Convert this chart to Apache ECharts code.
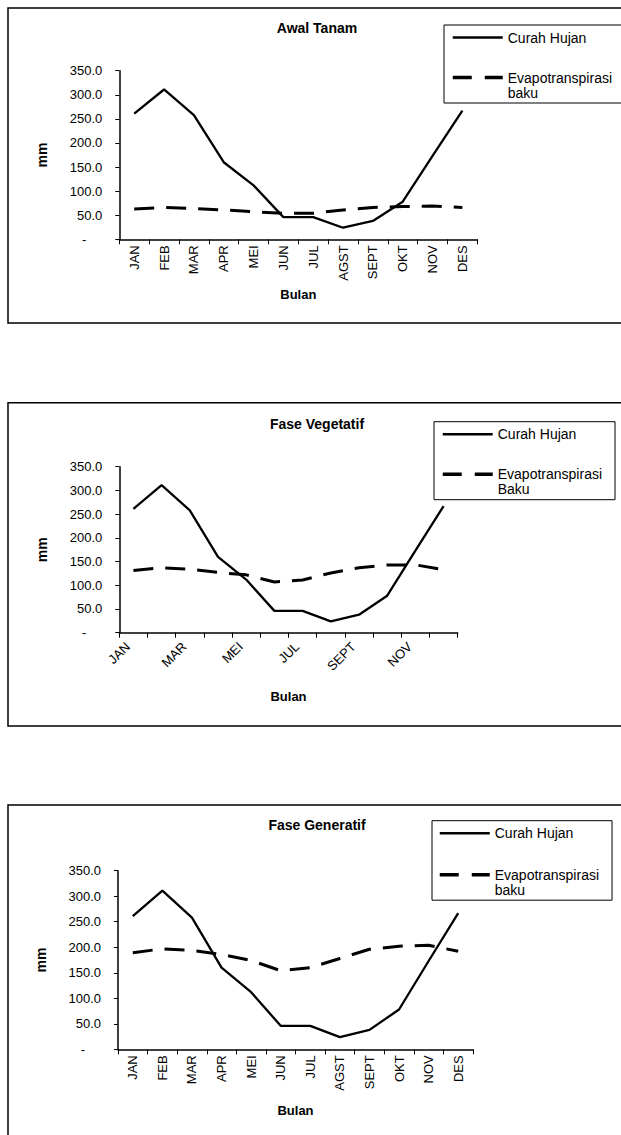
<!DOCTYPE html>
<html>
<head>
<meta charset="utf-8">
<script src="https://cdn.jsdelivr.net/npm/echarts@6/dist/echarts.min.js"></script>
<style>
html,body{margin:0;padding:0;background:#fff;}
#chart{width:621px;height:1135px;}
</style>
</head>
<body>
<div id="chart"></div>
<script>
// ---- data ----
const months = ['JAN','FEB','MAR','APR','MEI','JUN','JUL','AGST','SEPT','OKT','NOV','DES'];
const curahHujan = [261, 311, 258, 160, 112, 46, 46, 24, 38, 78, 173, 267];
const evapoAwalTanam = [63, 66, 64, 61, 57, 54, 54, 61, 66, 68, 69, 66];
const evapoVegetatif = [131, 137, 134, 127, 122, 107, 111, 126, 137, 143, 143, 133];
const evapoGeneratif = [189, 197, 194, 186, 174, 154, 160, 178, 196, 202, 204, 192];
const chartTitles = ['Awal Tanam', 'Fase Vegetatif', 'Fase Generatif'];
const rainName = 'Curah Hujan';
const evapoNames = ['Evapotranspirasi baku', 'Evapotranspirasi Baku', 'Evapotranspirasi baku'];
const yMin = 0, yMax = 350, yStep = 50;
const xName = 'Bulan';
const yName = 'mm';

// ---- layout ----
const FONT = '"Liberation Sans", Arial, sans-serif';
const grids = [
  {left: 119.3, top: 70.7, width: 358, height: 168.6},
  {left: 119.3, top: 466.7, width: 338.4, height: 166},
  {left: 118, top: 870.7, width: 355, height: 178.6}
];
const frames = [
  {y: 8, h: 315},
  {y: 402.7, h: 323.3},
  {y: 805, h: 340}
];
const legendPos = [
  {left: 444, top: 25, padding: [5, 20, 3, 7], gap: 10},
  {left: 434, top: 421.7, padding: [5, 13, 3, 7], gap: 10},
  {left: 432, top: 820.7, padding: [5, 13, 3, 6], gap: 11.5}
];
const titleTops = [16, 412, 813];
const xNameGaps = [49, 57, 55];
const evapoData = [evapoAwalTanam, evapoVegetatif, evapoGeneratif];

const chart = echarts.init(document.getElementById('chart'), null, {renderer: 'svg'});

const yLabelFmt = v => v === 0 ? '{d|-}' : v.toFixed(1);

const option = {
  backgroundColor: '#fff',
  animation: false,
  textStyle: {fontFamily: FONT, color: '#000'},
  title: chartTitles.map((t, i) => ({
    text: t,
    left: 312,
    textAlign: 'center',
    top: titleTops[i],
    textStyle: {fontFamily: FONT, fontSize: 14, fontWeight: 'bold', color: '#000'}
  })),
  legend: legendPos.map((p, i) => ({
    data: [
      {name: rainName, lineStyle: {width: 2.5, type: 'solid', color: '#000'}},
      {name: evapoNames[i], lineStyle: {width: 3.5, type: [19, 13], color: '#000'}}
    ],
    orient: 'vertical',
    left: p.left,
    top: p.top,
    padding: p.padding,
    itemGap: p.gap,
    itemWidth: 50,
    itemHeight: 14,
    borderColor: '#000',
    borderWidth: 1,
    borderRadius: 0,
    backgroundColor: '#fff',
    selectedMode: false,
    itemStyle: {opacity: 0},
    textStyle: {fontFamily: FONT, fontSize: 14, color: '#000', lineHeight: 15},
    formatter: name => name === rainName ? name : '\n' + name.replace(' ', '\n')
  })),
  grid: grids.map(g => Object.assign({containLabel: false}, g)),
  xAxis: grids.map((g, i) => ({
    type: 'category',
    gridIndex: i,
    data: months,
    boundaryGap: true,
    name: xName,
    nameLocation: 'middle',
    nameGap: xNameGaps[i],
    nameTextStyle: {fontFamily: FONT, fontSize: 13, fontWeight: 'bold', color: '#000'},
    axisLine: {lineStyle: {color: '#000', width: 1.5}},
    axisTick: {show: true, length: 5, lineStyle: {color: '#000', width: 1}, interval: 0},
    axisLabel: i === 1 ? {
      rotate: 45, interval: 1, margin: 6, fontFamily: FONT, fontSize: 13, color: '#000', padding: [0, 8, 0, 0]
    } : {
      rotate: 90, interval: 0, margin: 6, fontFamily: FONT, fontSize: 13, color: '#000'
    },
    splitLine: {show: false}
  })),
  yAxis: grids.map((g, i) => ({
    type: 'value',
    gridIndex: i,
    min: yMin,
    max: yMax,
    interval: yStep,
    name: yName,
    nameLocation: 'middle',
    nameGap: 70,
    nameTextStyle: {fontFamily: FONT, fontSize: 14, fontWeight: 'bold', color: '#000'},
    axisLine: {show: true, lineStyle: {color: '#000', width: 1.5}},
    axisTick: {show: true, length: 4, lineStyle: {color: '#000', width: 1}},
    axisLabel: {
      formatter: yLabelFmt, margin: 17, fontFamily: FONT, fontSize: 13, color: '#000',
      rich: {d: {fontFamily: FONT, fontSize: 13, color: '#000', padding: [0, 16, 0, 0]}}
    },
    splitLine: {show: false}
  })),
  series: [].concat(...[0, 1, 2].map(i => [
    {
      name: rainName, type: 'line', xAxisIndex: i, yAxisIndex: i,
      data: curahHujan, symbol: 'none', smooth: false,
      lineStyle: {color: '#000', width: 2.3, type: 'solid'},
      itemStyle: {color: '#000'}
    },
    {
      name: evapoNames[i], type: 'line', xAxisIndex: i, yAxisIndex: i,
      data: evapoData[i], symbol: 'none', smooth: false,
      lineStyle: {color: '#000', width: 3, type: [20, 12]},
      itemStyle: {color: '#000'}
    }
  ])),
  graphic: frames.map(f => ({
    type: 'rect', silent: true, z: -10,
    shape: {x: 8, y: f.y, width: 640, height: f.h},
    style: {fill: 'none', stroke: '#000', lineWidth: 1.5}
  }))
};
chart.setOption(option);
</script>
</body>
</html>
